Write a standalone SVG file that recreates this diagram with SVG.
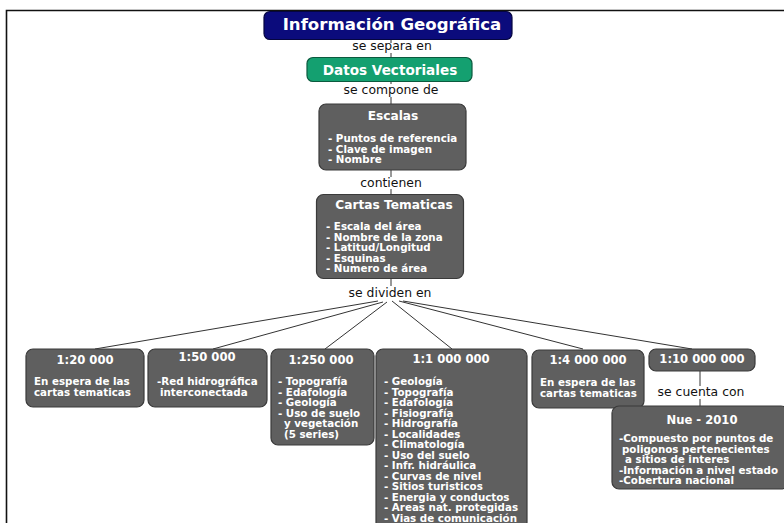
<svg xmlns="http://www.w3.org/2000/svg" width="784" height="523" viewBox="0 0 784 523">
  <style>
    .box { fill: #5f5f5f; stroke: #3a3a3a; stroke-width: 1.2; }
    .ttl { font-family: "DejaVu Sans", Verdana, sans-serif; font-weight: bold; fill: #ffffff; font-size: 11.6px; text-anchor: middle; }
    .big { font-size: 12.2px; }
    .itm { font-family: "DejaVu Sans", Verdana, sans-serif; font-weight: bold; fill: #ffffff; font-size: 10.3px; }
    .lbl { font-family: "DejaVu Sans", Verdana, sans-serif; fill: #111111; font-size: 12.4px; text-anchor: middle; }
    .conn { stroke: #333333; stroke-width: 1; fill: none; }
  </style>

  <!-- page frame -->
  <path d="M6.5 523 V10.5 H784" fill="none" stroke="#111111" stroke-width="1.6"/>

  <g id="connectors">
    <line class="conn" x1="391" y1="39" x2="391" y2="43"/>
    <line class="conn" x1="391" y1="53" x2="391" y2="58"/>
    <line class="conn" x1="391" y1="81" x2="391" y2="84"/>
    <line class="conn" x1="391" y1="97" x2="391" y2="104"/>
    <line class="conn" x1="391" y1="170" x2="391" y2="177"/>
    <line class="conn" x1="391" y1="189" x2="391" y2="194"/>
    <line class="conn" x1="391" y1="278" x2="391" y2="286"/>
    <line class="conn" x1="378" y1="301" x2="95" y2="349"/>
    <line class="conn" x1="383" y1="302" x2="213" y2="349"/>
    <line class="conn" x1="387" y1="302" x2="325" y2="349"/>
    <line class="conn" x1="392" y1="301" x2="452" y2="349"/>
    <line class="conn" x1="399" y1="301" x2="583" y2="349"/>
    <line class="conn" x1="403" y1="301" x2="692" y2="349"/>
    <line class="conn" x1="700" y1="371" x2="700" y2="386"/>
    <line class="conn" x1="700" y1="399" x2="700" y2="406"/>
    <text class="lbl" x="392" y="50">se separa en</text>
    <text class="lbl" x="391" y="94">se compone de</text>
    <text class="lbl" x="391" y="187">contienen</text>
    <text class="lbl" x="390" y="297">se dividen en</text>
    <text class="lbl" x="701" y="396">se cuenta con</text>
  </g>

  <g id="informacion-geografica">
    <rect x="264" y="11.5" width="248" height="28" rx="6" fill="#0b0b7c" stroke="#050540" stroke-width="1.2"/>
    <text class="ttl" x="392" y="30" style="font-size:16.6px">Información Geográfica</text>
  </g>

  <g id="datos-vectoriales">
    <rect x="307" y="57.5" width="165" height="24" rx="6" fill="#14a070" stroke="#0b5a3e" stroke-width="1.2"/>
    <text class="ttl" x="390" y="74.5" style="font-size:13.6px">Datos Vectoriales</text>
  </g>

  <g id="escalas">
    <rect class="box" x="319" y="104" width="147" height="66" rx="7"/>
    <text class="ttl big" x="393" y="120">Escalas</text>
    <text class="itm" x="328" y="142">- Puntos de referencia</text>
    <text class="itm" x="328" y="152.5">- Clave de imagen</text>
    <text class="itm" x="328" y="163">- Nombre</text>
  </g>

  <g id="cartas-tematicas">
    <rect class="box" x="316.5" y="194.5" width="147" height="84" rx="7"/>
    <text class="ttl big" x="394" y="209">Cartas Tematicas</text>
    <text class="itm" x="326" y="230">- Escala del área</text>
    <text class="itm" x="326" y="240.5">- Nombre de la zona</text>
    <text class="itm" x="326" y="251">- Latitud/Longitud</text>
    <text class="itm" x="326" y="261.5">- Esquinas</text>
    <text class="itm" x="326" y="272">- Numero de área</text>
  </g>

  <g id="escala-20000">
    <rect class="box" x="26" y="349" width="118" height="58" rx="7"/>
    <text class="ttl" x="85" y="364">1:20 000</text>
    <text class="itm" x="34" y="385">En espera de las</text>
    <text class="itm" x="34" y="396">cartas tematicas</text>
  </g>

  <g id="escala-50000">
    <rect class="box" x="148" y="349" width="119" height="58" rx="7"/>
    <text class="ttl" x="207" y="361">1:50 000</text>
    <text class="itm" x="157" y="385">-Red hidrográfica</text>
    <text class="itm" x="160" y="396">interconectada</text>
  </g>

  <g id="escala-250000">
    <rect class="box" x="271" y="349" width="103" height="96" rx="7"/>
    <text class="ttl" x="321" y="364">1:250 000</text>
    <text class="itm" x="278" y="385">- Topografía</text>
    <text class="itm" x="278" y="395.5">- Edafología</text>
    <text class="itm" x="278" y="406">- Geología</text>
    <text class="itm" x="278" y="416.5">- Uso de suelo</text>
    <text class="itm" x="284" y="427">y vegetación</text>
    <text class="itm" x="284" y="437.5">(5 series)</text>
  </g>

  <g id="escala-1000000">
    <rect class="box" x="376" y="349" width="151" height="180" rx="7"/>
    <text class="ttl" x="451" y="363">1:1 000 000</text>
    <text class="itm" x="384" y="385">- Geología</text>
    <text class="itm" x="384" y="395.5">- Topografía</text>
    <text class="itm" x="384" y="406">- Edafología</text>
    <text class="itm" x="384" y="416.5">- Fisiografía</text>
    <text class="itm" x="384" y="427">- Hidrografía</text>
    <text class="itm" x="384" y="437.5">- Localidades</text>
    <text class="itm" x="384" y="448">- Climatología</text>
    <text class="itm" x="384" y="458.5">- Uso del suelo</text>
    <text class="itm" x="384" y="469">- Infr. hidráulica</text>
    <text class="itm" x="384" y="479.5">- Curvas de nivel</text>
    <text class="itm" x="384" y="490">- Sitios turisticos</text>
    <text class="itm" x="384" y="500.5">- Energia y conductos</text>
    <text class="itm" x="384" y="511">- Areas nat. protegidas</text>
    <text class="itm" x="384" y="521.5">- Vias de comunicación</text>
  </g>

  <g id="escala-4000000">
    <rect class="box" x="532" y="350" width="112" height="58" rx="7"/>
    <text class="ttl" x="588" y="364">1:4 000 000</text>
    <text class="itm" x="540" y="386">En espera de las</text>
    <text class="itm" x="540" y="397">cartas tematicas</text>
  </g>

  <g id="escala-10000000">
    <rect class="box" x="649" y="349" width="106" height="22" rx="7"/>
    <text class="ttl" x="702" y="363">1:10 000 000</text>
  </g>

  <g id="nue-2010">
    <rect class="box" x="612" y="406" width="176" height="83" rx="7"/>
    <text class="ttl" x="702" y="424">Nue - 2010</text>
    <text class="itm" x="619" y="442">-Compuesto por puntos de</text>
    <text class="itm" x="622" y="452.5">poligonos pertenecientes</text>
    <text class="itm" x="625" y="463">a sitios de interes</text>
    <text class="itm" x="619" y="473.5">-Información a nivel estado</text>
    <text class="itm" x="619" y="484">-Cobertura nacional</text>
  </g>
</svg>
